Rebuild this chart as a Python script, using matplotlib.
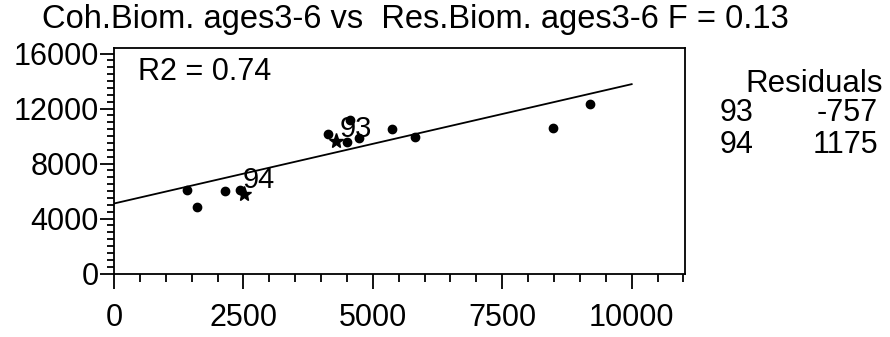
import matplotlib
matplotlib.use("Agg")
import matplotlib.pyplot as plt
from matplotlib.ticker import MultipleLocator

plt.rcParams['font.family'] = ['Liberation Sans', 'DejaVu Sans']

# Residual biomass (x) vs cohort biomass (y), ages 3-6
res_biom = [1408, 1596, 2146, 2430, 4141, 4508, 4559, 4726, 5373, 5824, 8482, 9188]
coh_biom = [6058, 4844, 6007, 6058, 10110, 9571, 11200, 9840, 10545, 9935, 10618, 12313]

# Most recent years, drawn as stars
recent_years = ["93", "94"]
recent_x = [4282, 2514]
recent_y = [9622, 5818]
label_x = [4360, 2490]
label_y = [10509, 6800]

# Regression line
intercept = 5090
slope = 0.868
line_x = [0, 10000]

residual_years = ["93", "94"]
residual_vals = ["-757", "1175"]

title = "Coh.Biom. ages3-6 vs  Res.Biom. ages3-6 F = 0.13"
r2_text = "R2 = 0.74"

fig = plt.figure(figsize=(8.9, 3.37), dpi=100)
ax = fig.add_axes([114 / 890, 1 - 273.5 / 337, (685 - 114) / 890, (273.5 - 48) / 337])

ax.plot(line_x, [intercept + slope * v for v in line_x], color="black", lw=1.3)
ax.plot(res_biom, coh_biom, "o", color="black", ms=6, mec="black")
ax.plot(recent_x, recent_y, "*", color="black", ms=11)
for lab, lx, ly in zip(recent_years, label_x, label_y):
    ax.text(lx, ly, lab, fontsize=21, va="center", ha="left")

ax.set_xlim(0, 11030)
ax.set_ylim(0, 16400)
ax.xaxis.set_major_locator(MultipleLocator(2500))
ax.xaxis.set_minor_locator(MultipleLocator(500))
ax.yaxis.set_major_locator(MultipleLocator(4000))
ax.yaxis.set_minor_locator(MultipleLocator(500))
ax.tick_params(axis="x", which="major", length=11, width=1.3, labelsize=22, pad=10)
ax.tick_params(axis="x", which="minor", length=6, width=1.3)
ax.tick_params(axis="y", which="major", length=10, width=1.3, labelsize=22, pad=1)
ax.tick_params(axis="y", which="minor", length=5, width=1.3)
for s in ax.spines.values():
    s.set_linewidth(1.3)

ax.text(0.042, 0.96, r2_text, transform=ax.transAxes, fontsize=22, va="top", ha="left")

fig.text(42 / 890, 1 - 28 / 337, title, fontsize=23.5, ha="left", va="baseline")

fig.text(745 / 890, 1 - 84 / 337, "Residuals", fontsize=22.5, ha="left", va="center")
for i, (yr, val) in enumerate(zip(residual_years, residual_vals)):
    yy = 1 - (113 + 32 * i) / 337
    fig.text(720 / 890, yy, yr, fontsize=22, ha="left", va="center")
    fig.text(878 / 890, yy, val, fontsize=22, ha="right", va="center")

fig.savefig("out.png", dpi=100)
